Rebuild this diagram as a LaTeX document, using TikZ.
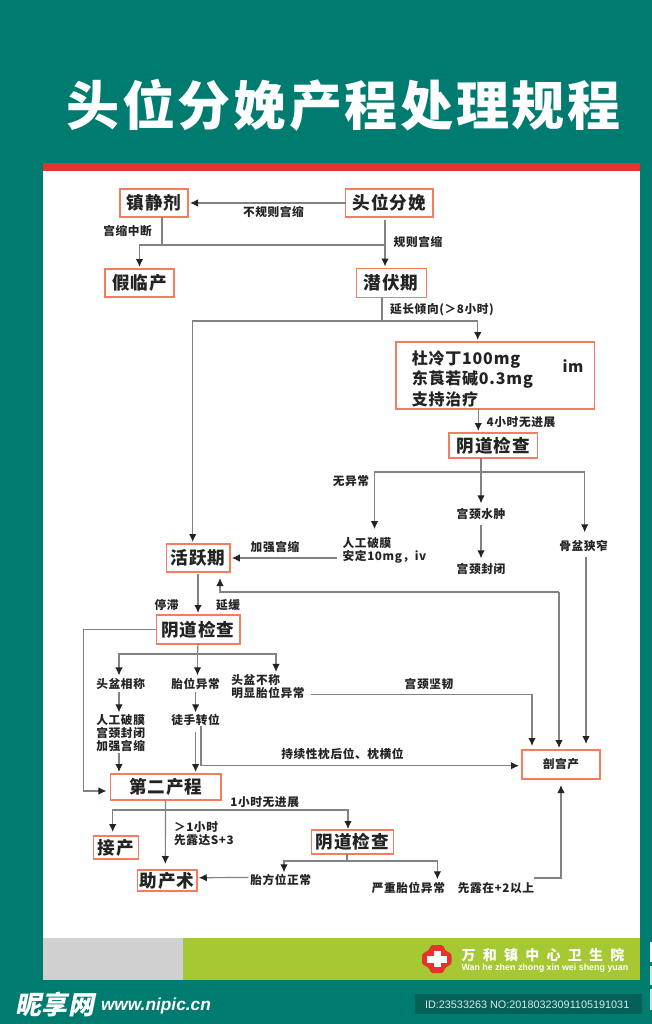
\documentclass[tikz,border=0pt]{standalone}
\usepackage{fontspec}
\usepackage{xcolor}
\usetikzlibrary{arrows.meta,positioning}
\setmainfont[LetterSpace=5]{Noto Sans CJK SC}
\newfontfamily\titlefont[LetterSpace=5]{Noto Sans CJK SC}
\newfontfamily\hospfont[LetterSpace=52]{Noto Sans CJK SC}
\newfontfamily\slantfont[FakeSlant=0.2]{Noto Sans CJK SC}
\newfontfamily\arialfont{Liberation Sans}
\definecolor{pageteal}{RGB}{0,123,111}
\definecolor{idteal}{RGB}{5,96,90}
\definecolor{stripered}{RGB}{232,50,44}
\definecolor{boxedge}{RGB}{244,125,95}
\definecolor{linegray}{RGB}{130,130,130}
\definecolor{inktext}{RGB}{35,35,35}
\definecolor{footgray}{RGB}{208,208,208}
\definecolor{footgreen}{RGB}{166,200,50}

\begin{document}
\begin{tikzpicture}[
    x=1pt, y=-1pt,
    every node/.style={text=inktext, outer sep=0pt},
    box/.style={rectangle, draw=boxedge, line width=1.5pt, fill=white, inner sep=0pt, font=\bfseries\fontsize{17.6}{20}\selectfont},
    lbl/.style={inner sep=0pt, font=\bfseries\fontsize{11.7}{13}\selectfont},
    line/.style={draw=linegray, line width=1.2pt},
    arrow/.style={line, -{Latex[length=8pt,width=7.5pt,color=inktext]}, shorten >=2pt}
]
\useasboundingbox (0,0) rectangle (652,1024);

% Fondo
\fill[pageteal] (0,0) rectangle (652,1024);
\fill[white] (43,163) rectangle (640,938);
\fill[stripered] (43,163) rectangle (640,171.5);
\fill[footgray] (43,938) rectangle (183,980);
\fill[footgreen] (183,938) rectangle (640,980);
\fill[idteal] (415,994) rectangle (641.5,1014);
\fill[white] (650,942) rectangle (652,962);
\fill[white!80!pageteal] (650,966) rectangle (652,985);
\fill[white!80!pageteal] (650,989) rectangle (652,1010);
\node[text=white, inner sep=0pt, font=\titlefont\bfseries\fontsize{53}{60}\selectfont] (title) at (343.5,105) {头位分娩产程处理规程};

% Nodos
\node[box, minimum width=68pt, minimum height=28pt] (sedative) at (154,203) {镇静剂};
\node[box, minimum width=87.5pt, minimum height=28pt, right=157.5pt of sedative] (head) {头位分娩};
\node[box, minimum width=69pt, minimum height=28pt, below=52pt of sedative, xshift=-14.5pt] (falselabor) {假临产};
\node[box, minimum width=70pt, minimum height=29pt, below=51.5pt of head, xshift=2pt] (latent) {潜伏期};
\node[box, text width=167pt, inner xsep=15.8pt, minimum height=67pt, align=left, below=44.5pt of latent, xshift=104pt, font=\bfseries\fontsize{16}{20.5}\selectfont] (drug) {\rule{0pt}{20pt}杜冷丁100mg\\东莨若碱0.3mg\\支持治疗};
\node[lbl, font=\bfseries\fontsize{15.5}{18}\selectfont] (route) at (573,366) {im};
\node[box, minimum width=88.5pt, minimum height=25pt, below=24pt of drug, xshift=-2pt] (examA) {阴道检查};
\node[box, minimum width=63.5pt, minimum height=28pt] (active) at (198,558) {活跃期};
\node[box, minimum width=83.5pt, minimum height=29pt, below=43pt of active] (examB) {阴道检查};
\node[box, minimum width=110.5pt, minimum height=26pt] (second) at (165.7,787) {第二产程};
\node[box, minimum width=45pt, minimum height=23pt] (delivery) at (116,847.5) {接产};
\node[box, minimum width=59.5pt, minimum height=21pt] (assist) at (167,880.5) {助产术};
\node[box, minimum width=82pt, minimum height=24pt] (examC) at (352.5,842) {阴道检查};
\node[box, minimum width=78pt, minimum height=29pt, font=\bfseries\fontsize{11.7}{13}\selectfont] (cesarean) at (561,764.5) {剖宫产};

\node[lbl, align=left] (rupture) at (384.5,550) {人工破膜\\安定10mg，iv};
\node[lbl] (edema) at (481,514) {宫颈水肿};
\node[lbl] (closure) at (481,569) {宫颈封闭};
\node[lbl] (narrow) at (583.6,546) {骨盆狭窄};
\node[lbl] (fit) at (120.7,684) {头盆相称};
\node[lbl] (malpos) at (195.6,684) {胎位异常};
\node[lbl, align=left] (disprop) at (268,687) {头盆不称\\明显胎位异常};
\node[lbl, align=left] (ruptureB) at (120.7,733) {人工破膜\\宫颈封闭\\加强宫缩};
\node[lbl] (rotate) at (195.6,720) {徒手转位};
\node[lbl] (normalpos) at (280.7,880) {胎方位正常};
\node[lbl] (severe) at (408.4,888) {严重胎位异常};
\node[lbl] (lead) at (496,888) {先露在+2以上};

% Textos
\node[lbl] (tIrregular) at (273.5,212) {不规则宫缩};
\node[lbl] (tStop) at (127.6,231) {宫缩中断};
\node[lbl] (tRegular) at (418,242) {规则宫缩};
\node[lbl] (tProlong) at (442,310) {延长倾向(＞8小时)};
\node[lbl] (tFour) at (521,422) {4小时无进展};
\node[lbl] (tNormal) at (351,481) {无异常};
\node[lbl] (tBoost) at (275,546.7) {加强宫缩};
\node[lbl] (tArrest) at (166.5,605) {停滞};
\node[lbl] (tSlow) at (228,605) {延缓};
\node[lbl] (tTough) at (429,684) {宫颈坚韧};
\node[lbl] (tPersist) at (342.5,754) {持续性枕后位、枕横位};
\node[lbl] (tOne) at (264.7,802) {1小时无进展};
\node[lbl, align=left, anchor=west] (tOver) at (174,833.5) {＞1小时\\先露达S+3};

% Cruces
\coordinate (splitA) at (385,245);
\coordinate (tapA) at (162,245);
\coordinate (splitB) at (382,321);
\coordinate (splitC) at (481,472);
\coordinate (backTurn) at (559,592);
\coordinate (splitD) at (197.5,654);
\coordinate (splitE) at (165.5,810);
\coordinate (splitF) at (347,861);

% Flechas
\draw[arrow] (head.west) -- (sedative.east);
\draw[line] (sedative.south -| tapA) -- (tapA);
\draw[arrow, shorten <=3pt] (head.south -| splitA) -- (latent.north -| splitA);
\draw[arrow] (splitA) -| (falselabor.north);
\draw[line] (latent.south -| splitB) -- (splitB);
\draw[arrow] (splitB) -| ([xshift=-17.5pt]drug.north);
\draw[arrow] (splitB) -| ([xshift=-5.3pt]active.north);
\draw[arrow] ([xshift=-17pt]drug.south) -- ([xshift=-15pt]examA.north);
\draw[line] (examA.south -| splitC) -- (splitC);
\draw[arrow, shorten >=5pt] (splitC) -- (edema.north);
\draw[arrow, shorten >=8pt] (splitC) -| ([xshift=-10pt]rupture.north);
\draw[arrow, shorten >=8pt] (splitC) -| ([xshift=1.1pt]narrow.north);
\draw[arrow, shorten <=5pt, shorten >=5pt] (edema.south) -- (closure.north);
\draw[arrow, shorten <=6pt] (rupture.west |- active) -- (active.east);
\draw[arrow, shorten <=5pt, shorten >=6pt] ([xshift=2.4pt]narrow.south) -- ([xshift=25pt]cesarean.north);
\draw[arrow, shorten >=6pt] (backTurn) -| ([xshift=22pt]active.south);
\draw[arrow, shorten >=2pt] (backTurn) -- (cesarean.north -| backTurn);
\draw[arrow, shorten <=2pt] (active.south) -- (examB.north);
\draw[arrow, shorten >=4pt] (examB.west) -- ++(-72.5,0) |- ([yshift=-4pt]second.west);
\draw[line] (examB.south) -- (splitD);
\draw[arrow, shorten >=3pt] (splitD) -| ([xshift=-1.7pt]fit.north);
\draw[arrow, shorten >=3pt] (splitD) -- (splitD |- malpos.north);
\draw[arrow, shorten >=3pt] (splitD) -| ([xshift=8pt]disprop.north);
\draw[arrow, shorten <=2pt, shorten >=2pt] ([xshift=-1.7pt]fit.south) -- ([xshift=-1.7pt]ruptureB.north);
\draw[arrow, shorten <=2pt, shorten >=2pt] (malpos.south) -- (rotate.north);
\draw[arrow, shorten <=1pt] ([xshift=-1.7pt]ruptureB.south) -- ([xshift=-1.7pt]ruptureB.south |- second.north);
\draw[arrow, shorten <=6pt] (rotate.south) -- (rotate.south |- second.north);
\draw[arrow, shorten >=3pt] ([xshift=5.4pt]rotate.south) |- ([yshift=-1.2pt]cesarean.west);
\draw[arrow, shorten <=6pt, shorten >=4pt] ([yshift=-7.5pt]disprop.east) -| ([xshift=-29pt]cesarean.north);
\draw[arrow, shorten >=6pt] ([xshift=-0.2pt]second.south) -- ([xshift=-1.7pt]assist.north);
\draw[arrow, shorten >=4pt] (splitE) -| ([xshift=-3.3pt]delivery.north);
\draw[arrow, shorten >=1pt] (splitE) -| ([xshift=-4.5pt]examC.north);
\draw[line] (examC.south -| splitF) -- (splitF);
\draw[arrow, shorten >=2pt] (splitF) -| ([xshift=3.3pt]normalpos.north);
\draw[arrow, shorten >=3pt] (splitF) -| ([xshift=29pt]severe.north);
\draw[arrow, shorten <=2pt] ([yshift=2.5pt]normalpos.west) -- ([yshift=2.8pt]assist.east);
\draw[arrow, shorten >=6pt] ([yshift=10pt]lead.east) -| (cesarean.south);

% Pie
\fill[stripered, rounded corners=1.5pt] (431,945) -- (443,945) -- (445,950) -- (451.5,954) -- (451.5,964) -- (445,968) -- (443,973) -- (431,973) -- (429,968) -- (422,964) -- (422,954) -- (429,950) -- cycle;
\fill[white] (427,955.5) rectangle (447,962.5);
\fill[white] (433.5,951) rectangle (440.5,967);
\node[text=white, inner sep=0pt, anchor=west, font=\hospfont\bfseries\fontsize{14}{16}\selectfont] (hospital) at (461.5,955.5) {万和镇中心卫生院};
\node[text=white, inner sep=0pt, anchor=west, font=\arialfont\bfseries\fontsize{8.9}{10}\selectfont] (hospitalpy) at (461.5,968) {Wan he zhen zhong xin wei sheng yuan};
\node[text=white, inner sep=0pt, anchor=west, font=\slantfont\bfseries\fontsize{26}{28}\selectfont] (mark) at (16,1005) {昵享网};
\node[text=white, inner sep=0pt, anchor=west, font=\arialfont\bfseries\itshape\fontsize{17.3}{20}\selectfont] (site) at (101,1006) {www.nipic.cn};
\node[text=white!85!pageteal, inner sep=0pt, anchor=west, font=\arialfont\fontsize{10.85}{13}\selectfont] (idtag) at (425,1004.5) {ID:23533263 NO:20180323091105191031};
\end{tikzpicture}
\end{document}
